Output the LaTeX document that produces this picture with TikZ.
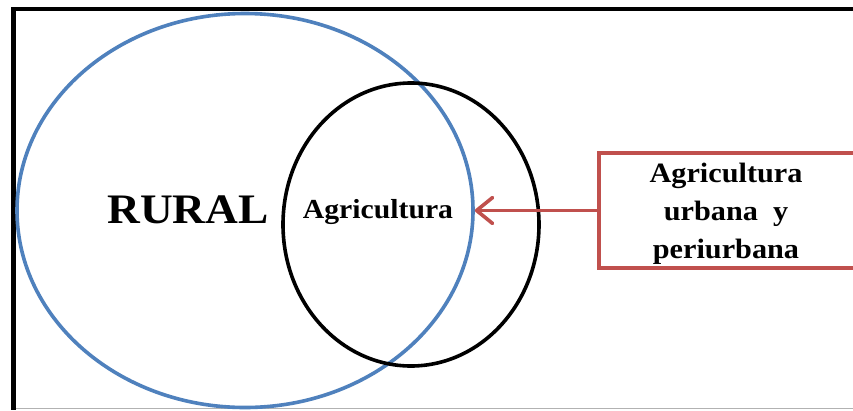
\documentclass[tikz,border=0pt]{standalone}
\usepackage{fontspec}
\setmainfont{Liberation Serif}
\newfontfamily\tnr[FakeStretch=1.08]{Liberation Serif}
\usetikzlibrary{shapes.geometric,arrows.meta}
\definecolor{offblue}{RGB}{79,129,189}
\definecolor{offred}{RGB}{192,80,77}
\tikzset{
  bigring/.style={ellipse, draw=offblue, line width=3.6pt, inner sep=0pt},
  smallring/.style={ellipse, draw=black, line width=3.6pt, inner sep=0pt},
  labelbox/.style={draw=offred, line width=3.6pt, inner sep=0pt, rectangle},
  lbl/.style={font=\tnr\bfseries, inner sep=0pt},
  redarrow/.style={draw=offred, line width=3.6pt, -{Straight Barb[length=16pt,width=26pt,line width=3.6pt,round]}}
}
\begin{document}
\begin{tikzpicture}[x=1pt,y=-1pt]
\useasboundingbox (0,0) rectangle (853,410);
\fill[white] (0,0) rectangle (853,410);
\begin{scope}
\clip (0,0) rectangle (853,410);
% frame
\fill[black] (11,7) rectangle (853,11);
\fill[black] (11,7) rectangle (16,410);
\draw[black!30, line width=1.2pt] (16,408.5) -- (853,408.5);
% circles
\node[bigring, minimum width=456pt, minimum height=394pt] (rural) at (245,210.5) {};
\node[smallring, minimum width=256pt, minimum height=283pt] (agri) at (411,224.5) {};
% box
\node[labelbox, minimum width=271pt, minimum height=115pt] (box) at (734.5,210.5) {};
\end{scope}
% texts
\node[lbl, font=\tnr\bfseries\fontsize{42}{42}\selectfont, anchor=base] (ruraltext) at (188,223) {RURAL};
\node[lbl, font=\tnr\bfseries\fontsize{27.5}{27.5}\selectfont, anchor=base] (agritext) at (378,218) {Agricultura};
\node[lbl, font=\tnr\bfseries\fontsize{28}{38}\selectfont, align=center, anchor=base] (boxtext) at (726,258) {Agricultura\\urbana\ \ y\\periurbana};
% arrow
\draw[redarrow] (box.west) -- (rural.east);
\end{tikzpicture}
\end{document}
